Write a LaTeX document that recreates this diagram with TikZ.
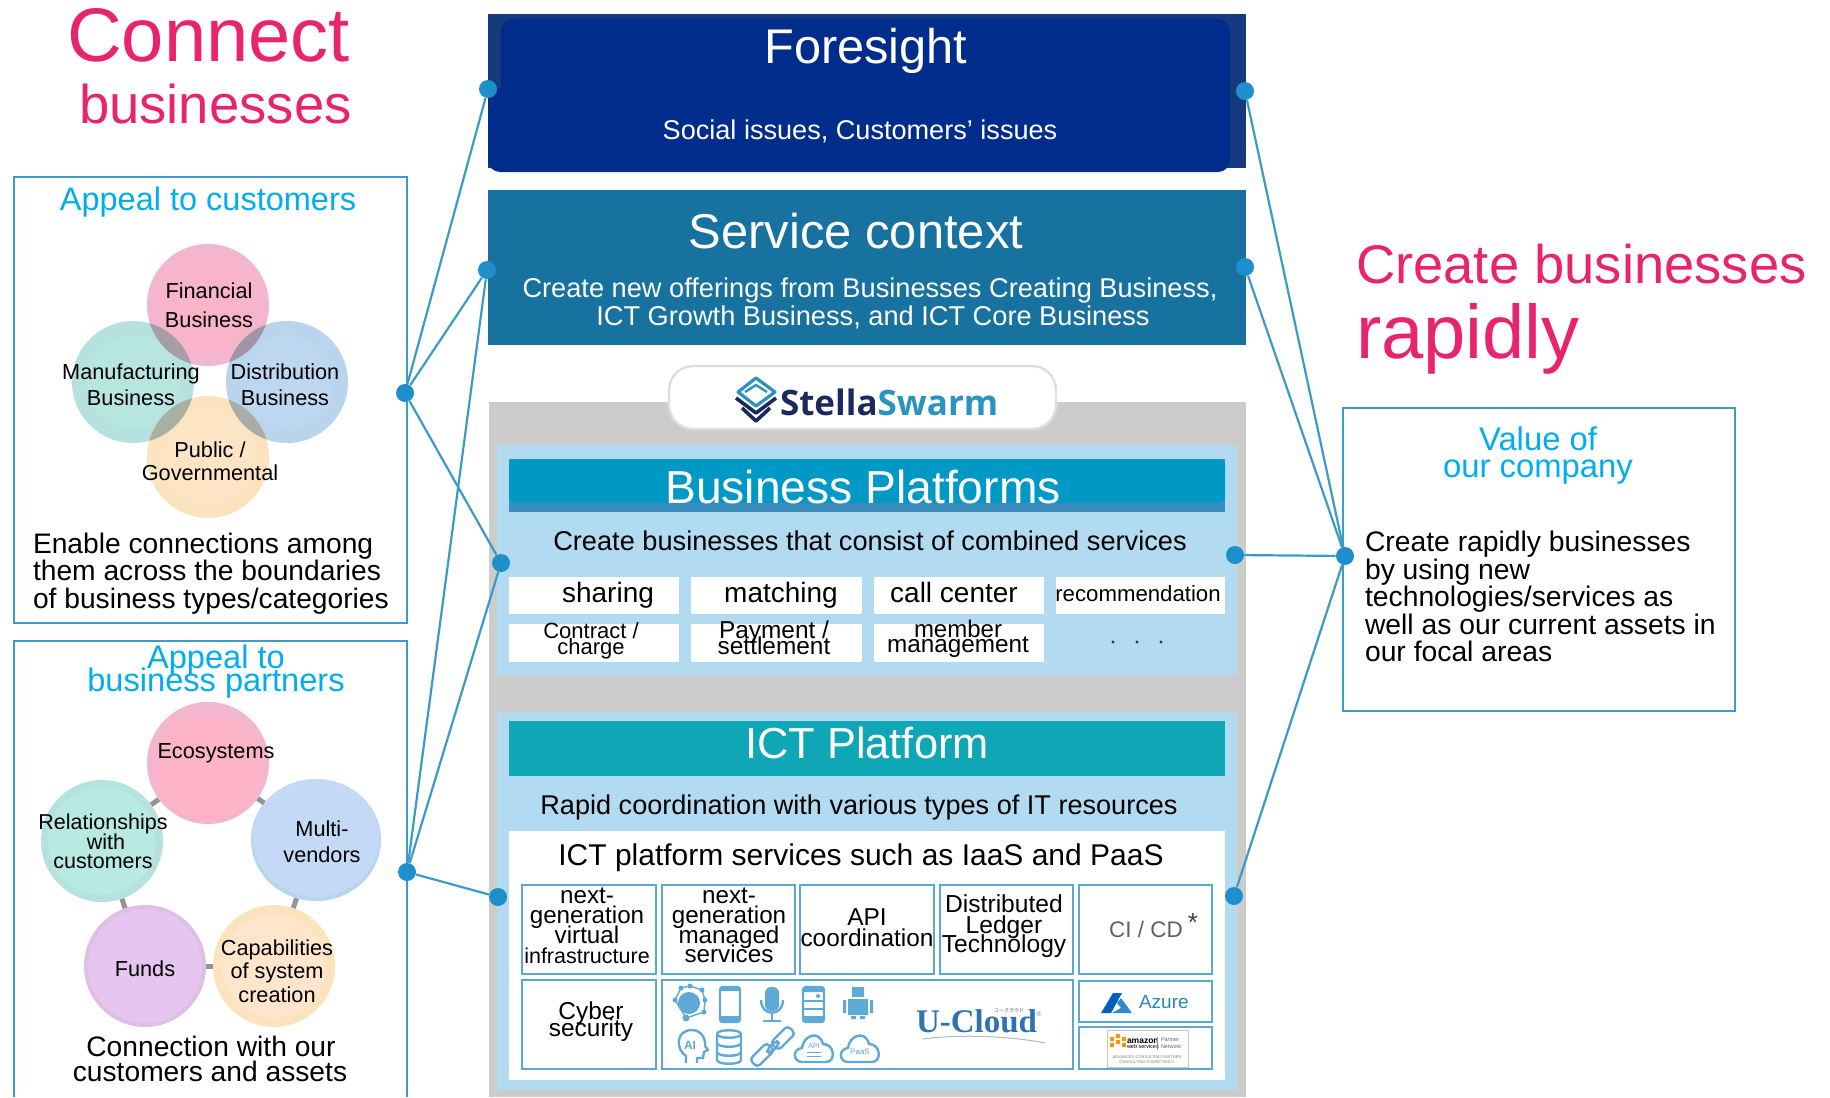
\documentclass[tikz,border=0pt]{standalone}
\usepackage{fontspec}
\setmainfont{Liberation Sans}
\newfontfamily\cjk{Noto Sans CJK JP}
\newfontfamily\serifb{Liberation Serif}
\newfontfamily\logofont{Open Sans}
\usetikzlibrary{backgrounds,shapes.geometric}
\newcommand\pxfont[1]{\pgfmathsetmacro\pxsz{#1*0.5}\fontsize{\pxsz pt}{\pxsz pt}\selectfont}
\definecolor{pinkT}{HTML}{E8246F}
\definecolor{cyanT}{HTML}{00AEEF}
\definecolor{frameB}{HTML}{3F9CC9}
\definecolor{lineB}{HTML}{3B9AC6}
\definecolor{dotB}{HTML}{1F8FCC}
\definecolor{lightB}{HTML}{B2DAF0}
\definecolor{navyO}{HTML}{163A7E}
\definecolor{navyI}{HTML}{002D8C}
\definecolor{serv}{HTML}{17729F}
\definecolor{greyP}{HTML}{CCCCCC}
\definecolor{bpH}{HTML}{0099C6}
\definecolor{bpS}{HTML}{3A8DBD}
\definecolor{ictH}{HTML}{0FA7B5}
\definecolor{iconB}{HTML}{5FA9D6}
\definecolor{cellB}{HTML}{5AA9CE}
\definecolor{rPink}{HTML}{F3B6CE}
\definecolor{iPink}{HTML}{FFB3C6}
\definecolor{rTeal}{HTML}{B5E2DE}
\definecolor{iTeal}{HTML}{B8E9E3}
\definecolor{rBlue}{HTML}{B9D5EE}
\definecolor{iBlue}{HTML}{C3D9F5}
\definecolor{rOrange}{HTML}{FBE3BE}
\definecolor{iOrange}{HTML}{FFE5CC}
\definecolor{rPurple}{HTML}{DDC0E2}
\definecolor{iPurple}{HTML}{E6C5F0}
\definecolor{stellaN}{HTML}{1B2A5C}
\definecolor{stellaT}{HTML}{2A93C0}
\definecolor{ucloud}{HTML}{2F73AE}
\tikzset{
  tx/.style={inner sep=0pt,outer sep=0pt,anchor=base,align=center},
  txw/.style={tx,anchor=base west,align=left},
  px/.style={font=\pxfont{#1}},
  dotn/.style={circle,fill=dotB,inner sep=0pt,minimum size=9pt},
  conn/.style={draw=lineB,line width=1.1pt},
  glink/.style={draw=black!42,line width=2.5pt},
  bub/.style={circle,inner sep=0pt,outer sep=0pt,minimum size=61pt},
  bubm/.style={ellipse,inner sep=0pt,outer sep=0pt,minimum width=65pt,minimum height=61pt},
  cellbox/.style={draw=cellB,line width=.7pt,fill=white},
  tile/.style={fill=white},
  icon/.style={draw=iconB,line width=1.2pt,line join=round},
  iconf/.style={fill=iconB},
}
% optional style, name, x1, y1, x2, y2
\newcommand\rbox[6][]{%
  \pgfmathsetmacro\rcx{(#3+#5)/2}\pgfmathsetmacro\rcy{(#4+#6)/2}%
  \pgfmathsetmacro\rww{(#5-#3)*0.5}\pgfmathsetmacro\rhh{(#6-#4)*0.5}%
  \node[rectangle,inner sep=0pt,outer sep=0pt,minimum width=\rww pt,minimum height=\rhh pt,#1] (#2) at (\rcx,\rcy) {};}
\begin{document}
\begin{tikzpicture}[x=0.5pt,y=-0.5pt]
\useasboundingbox (0,0) rectangle (1830,1097);

% ---------- titles
\node[txw,px=76,text=pinkT] (tConnect) at (67,62) {Connect};
\node[txw,px=54.5,text=pinkT] (tBiz) at (79,124) {businesses};
\node[txw,px=54.4,text=pinkT] (tCreate) at (1356,283) {Create businesses};
\node[txw,px=76,text=pinkT] (tRapid) at (1356,358) {rapidly};

% ---------- left boxes
\rbox[draw=frameB,line width=1.1pt]{boxCust}{14}{177}{407}{623}
\draw[draw=frameB,line width=1.1pt] (14,1097) -- (14,641) -- (407,641) -- (407,1097);
\node[tx,px=32.5,text=cyanT] (tCust) at (208,210) {Appeal to customers};

% Venn circles
\node[bub,fill=rPink] (cFin) at (208,305) {};
\node[bub,fill=rTeal] (cMan) at (133,382) {};
\node[bub,fill=rBlue] (cDis) at (287,382) {};
\node[bub,fill=rOrange] (cPub) at (208,457) {};
\fill[iPink!60!rPink] (208,305) circle[radius=47];
\fill[iTeal!50!rTeal] (133,382) circle[radius=47];
\fill[iBlue!50!rBlue] (287,382) circle[radius=47];
\fill[iOrange!50!rOrange] (208,457) circle[radius=47];
\begin{scope}\clip (208,305) circle[radius=61]; \fill[fill=rPink!55!rTeal!78!black] (133,382) circle[radius=61];\end{scope}
\begin{scope}\clip (208,305) circle[radius=61]; \fill[fill=rPink!50!rBlue!75!black] (287,382) circle[radius=61];\end{scope}
\begin{scope}\clip (208,457) circle[radius=61]; \fill[fill=rOrange!50!rTeal!78!black] (133,382) circle[radius=61];\end{scope}
\begin{scope}\clip (208,457) circle[radius=61]; \fill[fill=rOrange!50!rBlue!78!black] (287,382) circle[radius=61];\end{scope}
\node[tx,px=21.7] (lFin) at (209,298) {Financial};
\node[tx,px=21.7] (lFin2) at (209,327) {Business};
\node[tx,px=21.7] (lMan) at (131,379) {Manufacturing};
\node[tx,px=21.7] (lMan2) at (131,405) {Business};
\node[tx,px=21.7] (lDis) at (285,379) {Distribution};
\node[tx,px=21.7] (lDis2) at (285,405) {Business};
\node[tx,px=21.7] (lPub) at (210,457) {Public /};
\node[tx,px=21.7] (lPub2) at (210,480) {Governmental};
\node[txw,px=28.2] (tEn1) at (33,553) {Enable connections among};
\node[txw,px=28.2] (tEn2) at (33,580) {them across the boundaries};
\node[txw,px=28.2] (tEn3) at (33,608) {of business types/categories};

% Partners
\node[tx,px=32.6,text=cyanT] (tApp) at (216,668) {Appeal to};
\node[tx,px=32.6,text=cyanT] (tApp2) at (216,691) {business partners};
\node[bub,fill=rPink] (cEco) at (208,763) {};
\node[bub,fill=rTeal] (cRel) at (102,841) {};
\node[bubm,fill=rBlue] (cMul) at (316,840) {};
\node[bub,fill=rPurple] (cFun) at (145,966) {};
\node[bub,fill=rOrange] (cCap) at (274,966) {};
\begin{scope}[on background layer]
\draw[glink] (cEco) -- (cRel);
\draw[glink] (cEco) -- (cMul);
\draw[glink] (cRel) -- (cFun);
\draw[glink] (cMul) -- (cCap);
\draw[glink] (cFun) -- (cCap);
\end{scope}
\fill[iPink] (208,768) circle[radius=52];
\fill[iTeal] (102,841) circle[radius=54];
\fill[iBlue] (316,838) circle[x radius=63,y radius=59];
\fill[iPurple] (145,966) circle[radius=57];
\fill[iOrange] (274,966) circle[radius=52];
\node[tx,px=21.7] (lEco) at (216,758) {Ecosystems};
\node[tx,px=21.5] (lRel) at (103,829) {Relationships};
\node[tx,px=21.5] (lRel2) at (106,849) {with};
\node[tx,px=21.5] (lRel3) at (103,868) {customers};
\node[tx,px=21.7] (lMul) at (322,836) {Multi-};
\node[tx,px=21.7] (lMul2) at (322,862) {vendors};
\node[tx,px=21.7] (lFun) at (145,976) {Funds};
\node[tx,px=21.7] (lCap) at (277,955) {Capabilities};
\node[tx,px=21.7] (lCap2) at (277,978) {of system};
\node[tx,px=21.7] (lCap3) at (277,1002) {creation};
\node[tx,px=28.2] (tCon1) at (211,1056) {Connection with our};
\node[tx,px=28.2] (tCon2) at (210,1081) {customers and assets};

% ---------- Foresight
\rbox[fill=navyO]{pFore}{488}{14}{1246}{168}
\fill[navyI,rounded corners=6pt] (501,19) rectangle (1230,110);
\fill[navyI,rounded corners=6pt] (488,88) rectangle (1230,172);
\node[tx,px=48.7,text=white] (tFore) at (866,64) {Foresight};
\node[tx,px=27.1,text=white] (tSoc) at (860,140) {Social issues, Customers’ issues};

% ---------- Service context
\rbox[fill=serv]{pServ}{488}{190}{1246}{345}
\node[tx,px=48.9,text=white] (tServ) at (856,248) {Service context};
\node[tx,px=27.2,text=white] (tSv1) at (870,297) {Create new offerings from Businesses Creating Business,};
\node[tx,px=27.2,text=white] (tSv2) at (873,325) {ICT Growth Business, and ICT Core Business};

% ---------- grey panel
\rbox[fill=greyP]{pGrey}{489}{402}{1246}{1097}
\rbox[fill=white,draw=black!13,line width=1.2pt,rounded corners=12pt]{pPill}{669}{366}{1056}{429}
% logo
\draw[stellaT,line width=1.6pt,line join=round] (756,378) -- (775,392) -- (756,406) -- (738,392) -- cycle;
\draw[stellaT,line width=1.2pt,line join=round] (745,392) -- (756,385) -- (767,392);
\draw[stellaN,line width=1.8pt,line join=round] (736,398) -- (756,413) -- (776,398);
\draw[stellaN,line width=1.8pt,line join=round] (742,408) -- (756,421) -- (770,408);
\node[txw,px=35] (tStella) at (780,415) {\logofont\bfseries\textcolor{stellaN}{Stella}\textcolor{stellaT}{Swarm}};

% ---------- Business Platforms
\rbox[fill=lightB]{pBP}{497}{445}{1237}{675}
\rbox[fill=bpS]{hBPs}{509}{459}{1225}{512}
\fill[bpH,rounded corners=3pt] (509,459) rectangle (1225,503);
\node[tx,px=46.2,text=white] (tBP) at (863,503) {Business Platforms};
\node[tx,px=27.2] (tBPs) at (870,550) {Create businesses that consist of combined services};
\rbox[tile]{s1}{509}{577}{679}{614}
\rbox[tile]{s2}{691}{577}{862}{614}
\rbox[tile]{s3}{874}{577}{1044}{614}
\rbox[tile]{s4}{1056}{577}{1225}{614}
\rbox[tile]{s5}{509}{624}{679}{662}
\rbox[tile]{s6}{691}{624}{862}{662}
\rbox[tile]{s7}{874}{624}{1044}{662}
\node[tx,px=28] (lS1) at (608,602) {sharing};
\node[tx,px=28] (lS2) at (781,602) {matching};
\node[tx,px=28] (lS3) at (954,602) {call center};
\node[tx,px=22.2] (lS4) at (1138,601) {recommendation};
\node[tx,px=22] (lS5) at (591,638) {Contract /};
\node[tx,px=22] (lS5b) at (591,654) {charge};
\node[tx,px=24.4] (lS6) at (774,638) {Payment /};
\node[tx,px=24.4] (lS6b) at (774,654) {settlement};
\node[tx,px=24] (lS7) at (958,637) {member};
\node[tx,px=24.3] (lS7b) at (958,652) {management};
\fill[black!80] (1113,642) circle[radius=1.6] (1137,642) circle[radius=1.6] (1161,642) circle[radius=1.6];

% ---------- ICT Platform
\rbox[fill=lightB]{pICT}{497}{712}{1237}{1090}
\rbox[fill=ictH]{hICT}{509}{721}{1225}{776}
\rbox[fill=white]{pICTw}{509}{831}{1225}{1080}
\node[tx,px=43.4,text=white] (tICT) at (867,758) {ICT Platform};
\node[tx,px=27.1] (tICTs) at (859,814) {Rapid coordination with various types of IT resources};
\node[tx,px=30] (tICTp) at (861,865) {ICT platform services such as IaaS and PaaS};
\rbox[cellbox]{c1}{522}{885}{656}{974}
\rbox[cellbox]{c2}{662}{885}{795}{974}
\rbox[cellbox]{c3}{800}{885}{934}{974}
\rbox[cellbox]{c4}{940}{885}{1073}{974}
\rbox[cellbox]{c5}{1079}{885}{1212}{974}
\rbox[cellbox]{c6}{522}{980}{656}{1069}
\rbox[cellbox]{c7}{662}{980}{1073}{1069}
\rbox[cellbox]{c8}{1079}{981}{1212}{1022}
\rbox[cellbox]{c9}{1079}{1027}{1212}{1069}
\node[tx,px=24.2] (lC1a) at (587,903) {next-};
\node[tx,px=24.2] (lC1b) at (587,923) {generation};
\node[tx,px=24.2] (lC1c) at (587,943) {virtual};
\node[tx,px=21.5] (lC1d) at (587,963) {infrastructure};
\node[tx,px=24.2] (lC2a) at (729,903) {next-};
\node[tx,px=24.2] (lC2b) at (729,923) {generation};
\node[tx,px=24.2] (lC2c) at (729,943) {managed};
\node[tx,px=24.2] (lC2d) at (729,962) {services};
\node[tx,px=24.4] (lC3a) at (867,925) {API};
\node[tx,px=24.4] (lC3b) at (867,946) {coordination};
\node[tx,px=24.6] (lC4a) at (1004,912) {Distributed};
\node[tx,px=24.6] (lC4b) at (1004,933) {Ledger};
\node[tx,px=24.6] (lC4c) at (1004,952) {Technology};
\node[tx,px=22.5,text=black!62] (lC5) at (1146,937) {CI / CD};
\node[tx,px=26,text=black!75] (lC5s) at (1193,931) {*};
\node[tx,px=24.4] (lC6a) at (591,1019) {Cyber};
\node[tx,px=24.4] (lC6b) at (591,1036) {security};

% icons: row 1
\draw[icon,line width=.7pt] (681,988)--(690,986)--(702,990)--(705,1000)--(704,1012)--(686,1018)--(675,1000)--cycle;
\fill[iconB] (689,1003) circle[radius=11];
\fill[iconB] (681,988) circle[radius=2.5] (690,986) circle[radius=2.5] (702,990) circle[radius=2.5] (705,1000) circle[radius=2.5] (704,1012) circle[radius=2.5] (686,1018) circle[radius=3.5] (675,1000) circle[radius=2.5];
\draw[icon,rounded corners=1.5pt] (720,987) rectangle (740,1022);
\fill[iconB] (720,987) rectangle (740,991) (720,1016) rectangle (740,1022);
\fill[iconB,rounded corners=3pt] (765,987) rectangle (779,1011);
\draw[icon] (761,1000) .. controls (761,1017) and (783,1017) .. (783,1000);
\draw[icon] (772,1012) -- (772,1021) (763,1021) -- (781,1021);
\draw[icon,rounded corners=1.5pt] (803,987) rectangle (824,1022);
\fill[iconB] (803,987) rectangle (824,992) (803,1016) rectangle (824,1022);
\draw[icon] (803,1001) -- (824,1001) (803,1009) -- (824,1009);
\fill[iconB] (818,996) circle[radius=2];
\fill[iconB] (852,987) rectangle (864,997) (848,999) rectangle (868,1015) (843,1000) rectangle (846,1013) (870,1000) rectangle (873,1013) (851,1016) rectangle (856,1019) (860,1016) rectangle (865,1019);
% icons: row 2
\draw[icon] (686,1063) -- (686,1056) .. controls (676,1050) and (675,1030) .. (692,1030) .. controls (702,1030) and (706,1040) .. (705,1046) -- (708,1050) -- (704,1052) -- (703,1058) -- (697,1058) -- (697,1063);
\node[tx,px=12,text=iconB] (iAI) at (690,1049) {\bfseries AI};
\draw[icon] (717,1034) .. controls (717,1029) and (741,1029) .. (741,1034) -- (741,1060) .. controls (741,1065) and (717,1065) .. (717,1060) -- cycle;
\draw[icon] (717,1034) .. controls (717,1039) and (741,1039) .. (741,1034);
\draw[icon] (717,1043) .. controls (717,1048) and (741,1048) .. (741,1043);
\draw[icon] (717,1052) .. controls (717,1057) and (741,1057) .. (741,1052);
\foreach \lx/\ly/\lh/\lw in {762/1055/12/5.5,783/1038/12/5.5,773/1047/7/2.5}{\draw[icon,rounded corners=2pt,rotate around={45:(\lx,\ly)}] (\lx-\lh,\ly-\lw) rectangle (\lx+\lh,\ly+\lw);}
\begin{scope}[shift={(795,1033)}]
\draw[icon] (7,29) .. controls (-2,29) and (-3,16) .. (7,15) .. controls (8,3) and (24,-4) .. (28,11) .. controls (40,11) and (41,29) .. (31,29) -- cycle;
\node[tx,px=7,text=iconB] (iAPI) at (19,15) {API};
\draw[icon,line width=.5pt] (12,19) -- (26,19) (12,23) -- (26,23);
\end{scope}
\begin{scope}[shift={(841,1033)}]
\draw[icon] (7,29) .. controls (-2,29) and (-3,16) .. (7,15) .. controls (8,3) and (24,-4) .. (28,11) .. controls (40,11) and (41,29) .. (31,29) -- cycle;
\node[tx,px=8,text=iconB] (iPaaS) at (19,21) {PaaS};
\end{scope}
% U-Cloud
\node[txw,px=33,text=ucloud] (lUC) at (916,1032) {\serifb\bfseries U-Cloud};
\node[tx,px=5,text=black!65] (lUCj) at (1009,1012) {\cjk ユークラウド};
\node[tx,px=7,text=black!45] (lUCr) at (1039,1016) {®};
\draw[draw=black!28,line width=.5pt] (923,1039) .. controls (960,1034) and (1010,1036) .. (1045,1043);
% Azure
\fill[fill=blue!50!cyan!75!black] (1113,993) -- (1122,993) -- (1111,1013) -- (1101,1013) -- cycle;
\fill[fill=cyan!60!blue!85!white] (1121,998) -- (1132,1013) -- (1112,1013) -- (1121,1008) -- (1117,1003) -- cycle;
\node[txw,px=19,text=ucloud!85!cyan] (lAz) at (1139,1008) {Azure};
% AWS
\rbox[fill=white,draw=black!22,line width=.3pt]{awsB}{1107}{1030}{1188}{1067}
\fill[orange!85!yellow] (1110,1037) rectangle (1114,1041) (1116,1034) rectangle (1120,1038) (1122,1037) rectangle (1126,1041) (1110,1043) rectangle (1114,1047) (1116,1040) rectangle (1120,1044) (1122,1043) rectangle (1126,1047);
\node[txw,px=8.5] (lAm) at (1127,1043) {\bfseries amazon};
\node[txw,px=5.5] (lAm2) at (1127,1048) {web services};
\draw[black!45,line width=.3pt] (1157,1037) -- (1157,1050);
\node[txw,px=5.5,text=black!60] (lAm3) at (1161,1041) {Partner};
\node[txw,px=5.5,text=black!60] (lAm4) at (1161,1048) {Network};
\node[tx,px=4,text=black!50] (lAm5) at (1147,1058) {ADVANCED CONSULTING PARTNER};
\node[tx,px=4,text=black!50] (lAm6) at (1147,1063) {CONSULTING COMPETENCY};

% ---------- Value box
\rbox[draw=frameB,line width=1.1pt]{boxVal}{1343}{408}{1735}{711}
\node[tx,px=32.8,text=cyanT] (tVal1) at (1538,450) {Value of};
\node[tx,px=32.8,text=cyanT] (tVal2) at (1538,477) {our company};
\node[txw,px=28.3] (tV1) at (1365,551) {Create rapidly businesses};
\node[txw,px=28.3] (tV2) at (1365,579) {by using new};
\node[txw,px=28.3] (tV3) at (1365,606) {technologies/services as};
\node[txw,px=28.3] (tV4) at (1365,634) {well as our current assets in};
\node[txw,px=28.3] (tV5) at (1365,661) {our focal areas};

% ---------- dots and connectors
\node[dotn] (d1) at (488,89) {};
\node[dotn] (d2) at (1245,91) {};
\node[dotn] (d3) at (487,270) {};
\node[dotn] (d4) at (1245,267) {};
\node[dotn] (d5) at (405,393) {};
\node[dotn] (d6) at (501,563) {};
\node[dotn] (d7) at (1235,555) {};
\node[dotn] (d8) at (1345,556) {};
\node[dotn] (d9) at (407,872) {};
\node[dotn] (d10) at (498,897) {};
\node[dotn] (d11) at (1234,896) {};
\draw[conn] (d5) -- (d1);
\draw[conn] (d5) -- (d3);
\draw[conn] (d5) -- (d6);
\draw[conn] (d9) -- (d3);
\draw[conn] (d9) -- (d6);
\draw[conn] (d9) -- (d10);
\draw[conn] (d7) -- (d8);
\draw[conn] (d2) -- (d8);
\draw[conn] (d4) -- (d8);
\draw[conn] (d11) -- (d8);
\end{tikzpicture}
\end{document}
